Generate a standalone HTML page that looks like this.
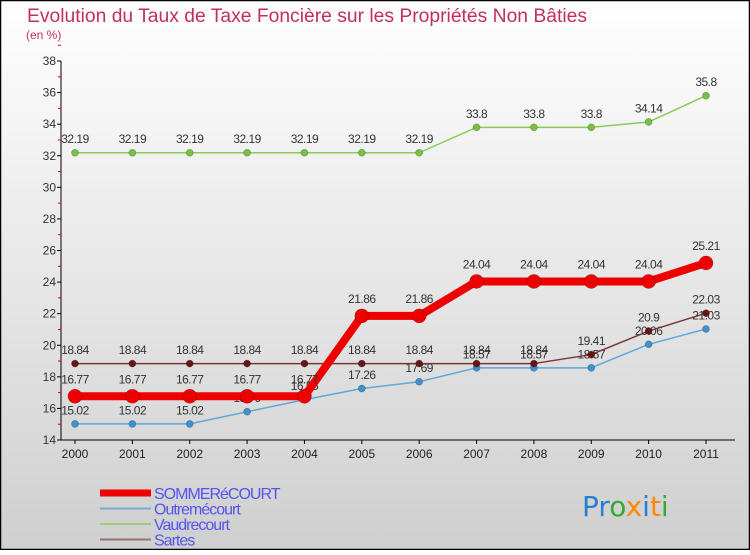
<!DOCTYPE html>
<html><head><meta charset="utf-8"><style>
html,body{margin:0;padding:0}
body{width:750px;height:550px;overflow:hidden;font-family:"Liberation Sans",sans-serif}
</style></head><body>
<svg id="chart" width="750" height="550" xmlns="http://www.w3.org/2000/svg">
<defs><linearGradient id="bg" x1="0" y1="0" x2="0" y2="1"><stop offset="0" stop-color="#ffffff"/><stop offset="1" stop-color="#cfcfcf"/></linearGradient></defs>
<rect x="0.5" y="0.5" width="749" height="549" fill="url(#bg)" stroke="#000" stroke-width="1.5"/>
<text x="27" y="22" font-size="19" fill="#c0305a" textLength="560" lengthAdjust="spacingAndGlyphs">Evolution du Taux de Taxe Foncière sur les Propriétés Non Bâties</text>
<text x="26" y="39" font-size="12" fill="#c0305a">(en %)</text>
<g id="axes"></g><g id="series"></g><g id="legend"></g>
<g font-size="28" font-family="'DejaVu Sans',sans-serif">
<text x="582" y="516"><tspan fill="#2a7fd0">Pr</tspan><tspan fill="#33aa33">o</tspan><tspan fill="#ff8800">x</tspan><tspan fill="#2a7fd0">i</tspan><tspan fill="#ff8800">t</tspan><tspan fill="#33aa33">i</tspan></text>
</g>
</svg>
<script>
const years=["2000","2001","2002","2003","2004","2005","2006","2007","2008","2009","2010","2011"];
const sommerecourt=[16.77,16.77,16.77,16.77,16.77,21.86,21.86,24.04,24.04,24.04,24.04,25.21];
const outremecourt=[15.02,15.02,15.02,15.79,16.55,17.26,17.69,18.57,18.57,18.57,20.06,21.03];
const vaudrecourt=[32.19,32.19,32.19,32.19,32.19,32.19,32.19,33.8,33.8,33.8,34.14,35.8];
const sartes=[18.84,18.84,18.84,18.84,18.84,18.84,18.84,18.84,18.84,19.41,20.9,22.03];
const yTicks=[14,16,18,20,22,24,26,28,30,32,34,36,38];
const seriesNames=["SOMMERéCOURT","Outremécourt","Vaudrecourt","Sartes"];

const NS="http://www.w3.org/2000/svg";
const x0=75,x1=706,yTop=61,yBot=440,vMin=14,vMax=38;
const X=i=>x0+i*(x1-x0)/(years.length-1);
const Y=v=>yBot-(v-vMin)*(yBot-yTop)/(vMax-vMin);
function mk(tag,attrs,parent){const e=document.createElementNS(NS,tag);for(const k in attrs)e.setAttribute(k,attrs[k]);parent.appendChild(e);return e;}
const axes=document.getElementById('axes');
const ax=mk('line',{x1:61,y1:yTop,x2:61,y2:yBot,stroke:'#000','stroke-width':1},axes);


const bx=mk('line',{x1:61,y1:yBot,x2:735,y2:yBot,stroke:'#000','stroke-width':1},axes);


yTicks.forEach(t=>{
  const y=Y(t);
  mk('line',{x1:57,y1:y,x2:61,y2:y,stroke:'#000'},axes);
  mk('line',{x1:58,y1:Y(t+1),x2:61,y2:Y(t+1),stroke:'#d00'},axes);
  const l=mk('text',{x:56,y:y+4,'font-size':12,fill:'#333','text-anchor':'end'},axes);
  l.textContent=t;
  
  
});
years.forEach((yr,i)=>{
  mk('line',{x1:X(i),y1:yBot,x2:X(i),y2:yBot+4,stroke:'#000'},axes);
  const l=mk('text',{x:X(i),y:yBot+18,'font-size':12,fill:'#222','text-anchor':'middle'},axes);
  l.textContent=yr;
  
  
});
const ser=document.getElementById('series');
const defs=[
 {d:vaudrecourt,c:'#88cc55',mc:'#77c040',w:1.5,r:3.5,n:'vaudrecourt'},
 {d:outremecourt,c:'#5fa8d8',mc:'#3f90d0',w:1.5,r:3.5,n:'outremecourt'},
 {d:sartes,c:'#7a3535',mc:'#6a1515',w:1.5,r:3.5,n:'sartes'},
 {d:sommerecourt,c:'#ee0000',mc:'#ee0000',w:8,r:7,n:'sommerecourt'}
];
defs.forEach(s=>{
  const g=mk('g',{},ser);
  
  
  const p=mk('polyline',{points:s.d.map((v,i)=>X(i)+','+Y(v)).join(' '),fill:'none',stroke:s.c,'stroke-width':s.w,'stroke-linejoin':'round'},g);
  
  
  s.d.forEach((v,i)=>{
    const c=mk('circle',{cx:X(i),cy:Y(v),r:s.r,fill:s.mc,stroke:'rgba(0,0,0,0.3)','stroke-width':0.6},g);
    
    
    const t=mk('text',{x:X(i),y:Y(v)-(s.r+6),'font-size':12,fill:'#333','text-anchor':'middle','letter-spacing':'-0.5'},g);
    t.textContent=String(v);
    
    
  });
});
const leg=document.getElementById('legend');
const legC=['#ee0000','#7aaed0','#99cc77','#997070'],legW=[7,2,2,2];
seriesNames.forEach((n,i)=>{
  const y=493+i*15.5;
  const g=mk('g',{},leg);
  
  
  mk('line',{x1:100,y1:y,x2:151,y2:y,stroke:legC[i],'stroke-width':legW[i]},g);
  const t=mk('text',{x:154,y:y+6,'font-size':16,fill:'#5555ee','letter-spacing':'-1'},g);
  t.textContent=n;
});
</script>
</body></html>
